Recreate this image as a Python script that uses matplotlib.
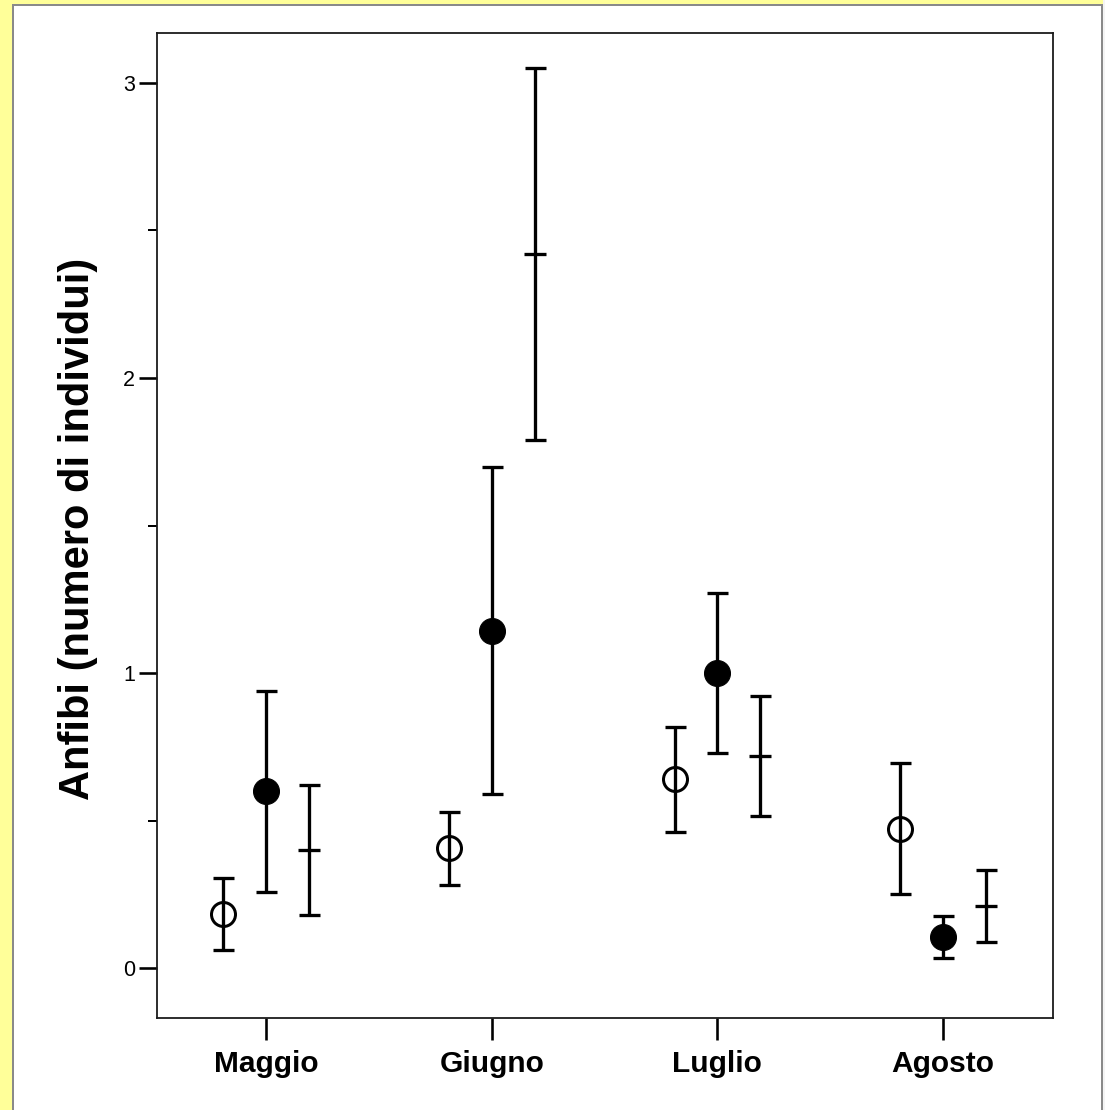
import matplotlib
matplotlib.use('Agg')
import matplotlib.pyplot as plt
import numpy as np
from matplotlib.patches import Rectangle

months = ['Maggio', 'Giugno', 'Luglio', 'Agosto']
open_mean = [0.182, 0.406, 0.640, 0.473]
open_low = [0.061, 0.281, 0.462, 0.251]
open_high = [0.305, 0.528, 0.818, 0.695]
filled_mean = [0.601, 1.142, 0.999, 0.106]
filled_low = [0.259, 0.589, 0.728, 0.033]
filled_high = [0.940, 1.697, 1.272, 0.176]
cross_mean = [0.400, 2.420, 0.720, 0.210]
cross_low = [0.180, 1.790, 0.515, 0.087]
cross_high = [0.620, 3.052, 0.922, 0.332]
y_ticks = [0, 1, 2, 3]
y_label = 'Anfibi (numero di individui)'

plt.rcParams['font.family'] = ['Liberation Sans', 'DejaVu Sans']

W, H = 1105, 1110
fig = plt.figure(figsize=(W / 100, H / 100), dpi=100, facecolor='#FFFF99')
px = 72 / 100.0  # points per pixel

# white panel with grey border
fig.patches.append(Rectangle((13 / W, -0.01), (1102 - 13) / W, (H - 5) / H + 0.01,
                             transform=fig.transFigure, facecolor='white',
                             edgecolor='#8a8a8a', linewidth=2 * px, zorder=-2))
fig.patches.append(Rectangle((1103 / W, -0.01), 3 / W, 1.02,
                             transform=fig.transFigure, facecolor='#f4f4f4',
                             edgecolor='none', zorder=-2))

ax = fig.add_axes([157 / W, (H - 1018) / H, (1053 - 157) / W, (1018 - 33) / H])
ax.set_facecolor('white')

x = np.arange(len(months))
off = 0.19
lw = 3.3 * px
cap = 10.5 * px

def draw(xpos, mean, low, high, **kw):
    mean = np.array(mean)
    yerr = [mean - np.array(low), np.array(high) - mean]
    ax.errorbar(xpos, mean, yerr=yerr, fmt='none', ecolor='black',
                elinewidth=lw, capsize=cap, capthick=lw, zorder=2)
    ax.plot(xpos, mean, linestyle='none', zorder=3, **kw)

draw(x - off, open_mean, open_low, open_high, marker='o', markersize=24 * px,
     markerfacecolor='none', markeredgecolor='black', markeredgewidth=3 * px)
draw(x, filled_mean, filled_low, filled_high, marker='o', markersize=26 * px,
     markerfacecolor='black', markeredgecolor='black', markeredgewidth=1 * px)
draw(x + off, cross_mean, cross_low, cross_high, marker='_', markersize=23 * px,
     markeredgecolor='black', markeredgewidth=lw)

ax.set_xlim(-0.483, 3.487)
ax.set_ylim(-0.169, 3.169)
ax.set_xticks(x)
ax.set_xticklabels(months, fontsize=21.5, fontweight='bold')
ax.set_yticks(y_ticks)
ax.set_yticklabels([str(t) for t in y_ticks], fontsize=15.5)
ax.set_yticks([0.5, 1.5, 2.5], minor=True)
ax.tick_params(axis='y', which='major', length=18 * px, width=2.6 * px, pad=4 * px, direction='out')
ax.tick_params(axis='y', which='minor', length=9 * px, width=2 * px, direction='out')
ax.tick_params(axis='x', which='major', length=22 * px, width=2.6 * px, pad=10 * px, direction='out')
for s in ax.spines.values():
    s.set_linewidth(1.8 * px)
    s.set_color('#1a1a1a')

ax.set_ylabel(y_label, fontsize=30, fontweight='bold')
ax.yaxis.set_label_coords((98 - 157) / (1053 - 157), (1018 - 529) / (1018 - 33))

fig.savefig('out.png', dpi=100, facecolor=fig.get_facecolor())
